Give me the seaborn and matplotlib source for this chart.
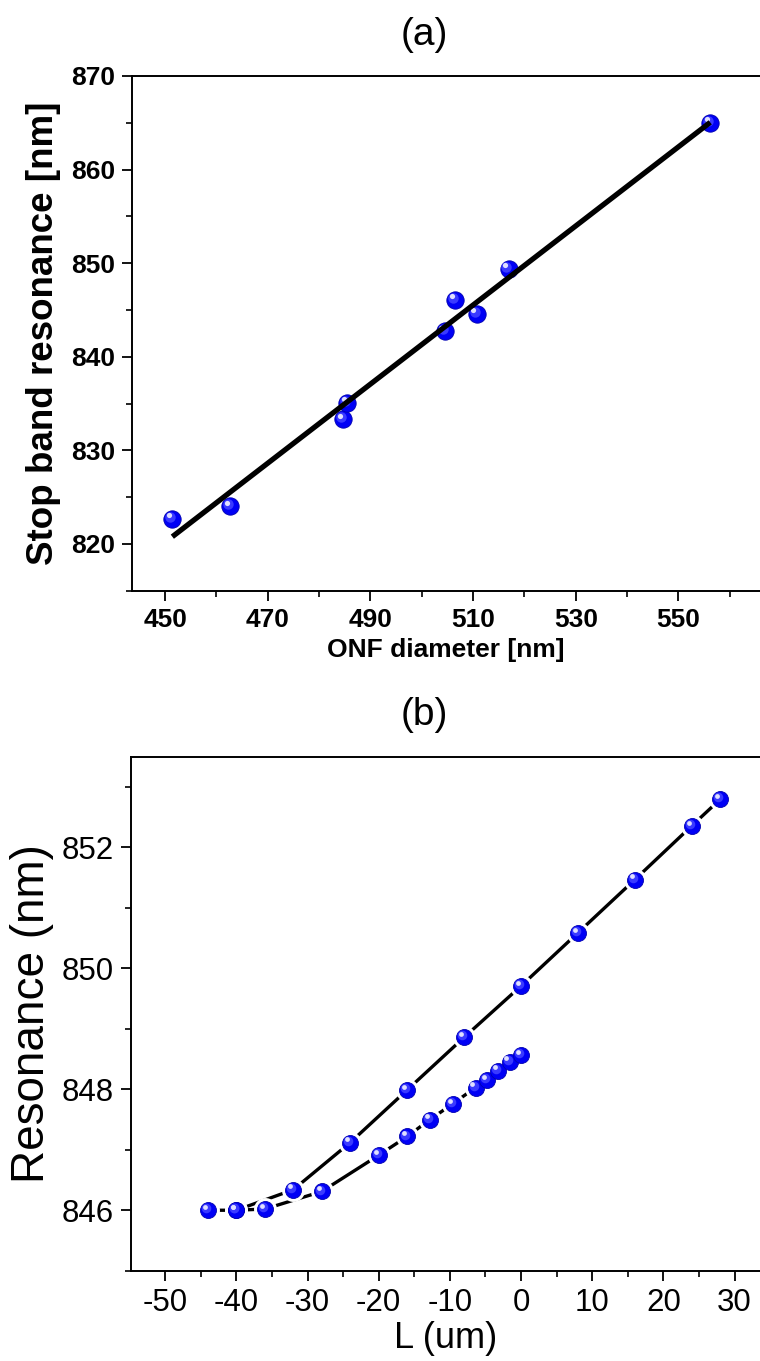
import numpy as np
import pandas as pd
import matplotlib
matplotlib.use("Agg")
import matplotlib.pyplot as plt
import seaborn as sns
from matplotlib.ticker import MultipleLocator
from matplotlib.transforms import offset_copy

# ---------------- data ----------------
onf_diameter = [451.4, 462.7, 484.7, 485.5, 504.5, 506.5, 510.7, 516.9, 556.2]
stop_band = [822.7, 824.0, 833.3, 835.1, 842.7, 846.1, 844.6, 849.4, 865.0]

L_upper = [-44, -40, -32, -24, -16, -8, 0, 8, 16, 24, 28]
res_upper = [846.0, 846.0, 846.34, 847.12, 847.99, 848.86, 849.71, 850.59, 851.47, 852.36, 852.8]
L_lower = [-40, -36, -28, -20, -16, -12.8, -9.6, -6.4, -4.8, -3.2, -1.6, 0]
res_lower = [846.0, 846.02, 846.31, 846.91, 847.22, 847.50, 847.76, 848.03, 848.15, 848.31, 848.46, 848.57]

top_xticks = [450, 470, 490, 510, 530, 550]
top_yticks = [820, 830, 840, 850, 860, 870]
bot_xticks = [-50, -40, -30, -20, -10, 0, 10, 20, 30]
bot_yticks = [846, 848, 850, 852]

# ---------------- style ----------------
sns.set_style("ticks")
plt.rcParams["font.family"] = ["Liberation Sans", "DejaVu Sans"]
plt.rcParams["axes.unicode_minus"] = False
plt.rcParams["text.color"] = "black"
plt.rcParams["axes.labelcolor"] = "black"

fig = plt.figure(figsize=(7.6, 13.61), dpi=100)
W, H = 760.0, 1361.0

def axes_px(left, top, right, bottom):
    return fig.add_axes([left / W, 1 - bottom / H, (right - left) / W, (bottom - top) / H])

ax1 = axes_px(132.3, 76, 760, 590.7)
ax2 = axes_px(131.0, 756.8, 760, 1270.7)

def spheres(ax, x, y, size, z, halo=False):
    if halo:
        sns.scatterplot(x=x, y=y, ax=ax, s=(size + 5) ** 2, color="white",
                        linewidth=0, zorder=z - 0.5, legend=False)
    sns.scatterplot(x=x, y=y, ax=ax, s=size ** 2, color="#0000f5",
                    edgecolor="#0000b0", linewidth=0.6, zorder=z, legend=False)
    mid = offset_copy(ax.transData, fig=fig, x=-size * 0.12, y=size * 0.12, units="points")
    sns.scatterplot(x=x, y=y, ax=ax, s=(size * 0.6) ** 2, color="#3a3aff",
                    linewidth=0, zorder=z + 0.1, legend=False, transform=mid)
    hl = offset_copy(ax.transData, fig=fig, x=-size * 0.2, y=size * 0.2, units="points")
    sns.scatterplot(x=x, y=y, ax=ax, s=(size * 0.3) ** 2, color="#e0e0ff",
                    linewidth=0, zorder=z + 0.2, legend=False, transform=hl)

# ---------------- panel (a) ----------------
spheres(ax1, onf_diameter, stop_band, 12.5, 3)
sns.regplot(x=onf_diameter, y=stop_band, ax=ax1, ci=None, scatter=False, truncate=True,
            line_kws=dict(color="black", lw=3.8, zorder=5, solid_capstyle="butt"))

ax1.set_xlim(443.6, 565.9)
ax1.set_ylim(815, 870)
ax1.set_xticks(top_xticks)
ax1.set_yticks(top_yticks)
ax1.xaxis.set_minor_locator(MultipleLocator(10))
ax1.yaxis.set_minor_locator(MultipleLocator(5))
ax1.set_xlabel("ONF diameter [nm]", fontsize=19, fontweight="bold", labelpad=4)
ax1.set_ylabel("Stop band resonance [nm]", fontsize=26.5, fontweight="bold", labelpad=7)

# ---------------- panel (b) ----------------
sns.lineplot(x=L_upper, y=res_upper, ax=ax2, sort=False, estimator=None,
             color="black", lw=2.4, zorder=1, legend=False)
sns.lineplot(x=L_lower, y=res_lower, ax=ax2, sort=False, estimator=None,
             color="black", lw=2.4, zorder=1, legend=False)
spheres(ax2, L_upper, res_upper, 11.5, 3, halo=True)
spheres(ax2, L_lower, res_lower, 11.5, 3, halo=True)

ax2.set_xlim(-54.8, 33.57)
ax2.set_ylim(845, 853.5)
ax2.set_xticks(bot_xticks)
ax2.set_yticks(bot_yticks)
ax2.xaxis.set_minor_locator(MultipleLocator(5))
ax2.yaxis.set_minor_locator(MultipleLocator(1))
ax2.set_xlabel("L (um)", fontsize=26, labelpad=2)
ax2.set_ylabel("Resonance (nm)", fontsize=33, labelpad=5)

# ---------------- common axis styling ----------------
for ax, fs in ((ax1, 19), (ax2, 22.5)):
    for side in ("left", "bottom", "top"):
        ax.spines[side].set_visible(True)
        ax.spines[side].set_linewidth(1.4)
        ax.spines[side].set_color("black")
    ax.spines["right"].set_visible(False)
    ax.tick_params(which="major", direction="out", length=7.5, width=1.3,
                   labelsize=fs, pad=5, top=False, right=False, colors="black")
    ax.tick_params(which="minor", direction="out", length=4.3, width=1.2,
                   top=False, right=False, colors="black")
    ax.grid(False)

for lab in ax1.get_xticklabels() + ax1.get_yticklabels():
    lab.set_fontweight("bold")

fig.text(424 / W, 1 - 35 / H, "(a)", ha="center", va="center", fontsize=28, color="black")
fig.text(424 / W, 1 - 715 / H, "(b)", ha="center", va="center", fontsize=28, color="black")

fig.savefig("out.png", dpi=100)
